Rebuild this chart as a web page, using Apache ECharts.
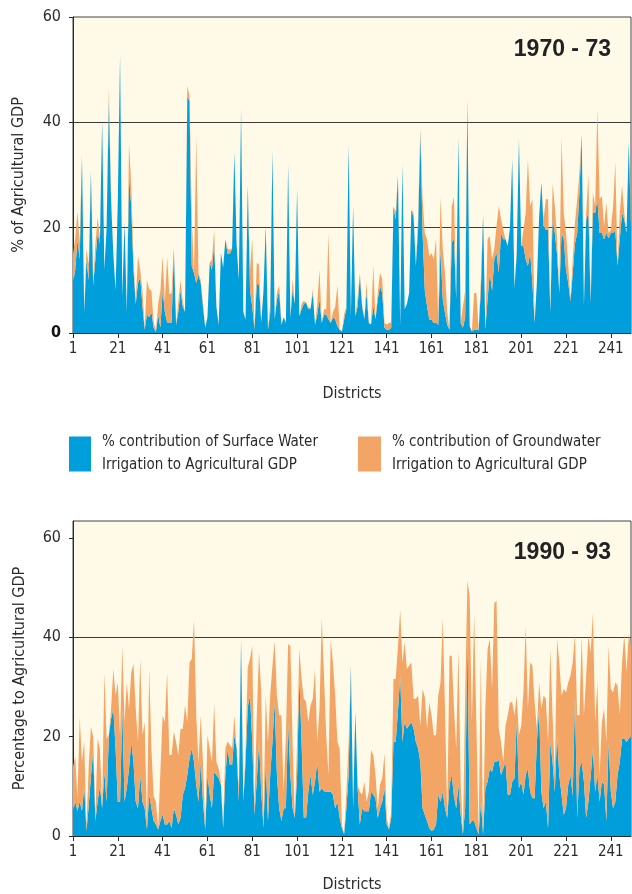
<!DOCTYPE html>
<html>
<head>
<meta charset="utf-8">
<script src="https://cdn.jsdelivr.net/npm/echarts@6/dist/echarts.min.js"></script>
<style>
html, body { margin: 0; padding: 0; background: #fff; }
#chart { width: 632px; height: 894px; }
</style>
</head>
<body>
<div id="chart"></div>
<script>
// districts 1..250 (x categories)
const districts = Array.from({ length: 250 }, (_, i) => String(i + 1));

// 1970-73, % of agricultural GDP
const surface7073 = [
  9.5, 12, 17.7, 14, 33.7, 3.9, 14, 10, 30.8, 9,
  14, 19, 17, 40.3, 12, 20, 44, 25, 15, 8,
  25, 52.7, 7, 21, 4, 29.8, 24, 12, 5.5, 9.5,
  10.6, 5, 0.6, 3.5, 3, 4, 1, 0.2, 3.5, 1,
  8, 4, 2, 2, 2, 15.7, 1.5, 4, 8, 5,
  4, 45, 44, 12.7, 11.4, 9.5, 11, 9.5, 5, 1,
  3, 13.3, 12, 17, 5, 1.5, 15.2, 12.4, 17.8, 15,
  15, 16, 34.3, 16.8, 10, 42.6, 4, 2.5, 28, 8,
  5, 0.6, 9.5, 9, 2, 8, 20.3, 0.6, 3.8, 34.6,
  2.5, 6.3, 8, 1.5, 3, 1.9, 32, 3, 8.3, 5.5,
  27.3, 3.2, 4.5, 5.5, 5.8, 4.5, 4.6, 7.6, 1.5, 3.5,
  6.4, 1.9, 3.5, 3.5, 2.6, 1.9, 3, 2.6, 1.3, 0.6,
  0.3, 2.6, 4.5, 35.8, 3.2, 24.1, 3.2, 5.1, 10.8, 5.1,
  2.6, 7.6, 1.9, 1.6, 5.1, 2.6, 6.4, 8.9, 7.6, 1,
  0.6, 0.6, 1, 24, 21.5, 29.9, 1.3, 32, 4.5, 5.5,
  7.6, 23.4, 22, 12.7, 20, 38.1, 19, 8, 5.1, 2.5,
  2.5, 1.9, 2, 1.5, 16, 6.4, 3.8, 1.5, 0.6, 17.2,
  17.8, 6.4, 37.2, 1.9, 1, 3, 44.5, 1.3, 0.3, 0.6,
  0.6, 0.5, 8, 22.5, 0.6, 6.4, 11.4, 8, 14, 15.2,
  11.4, 19, 17.8, 17.8, 16.5, 20, 33, 8.5, 15, 36.9,
  16.5, 16.5, 14, 12.7, 15.2, 9.5, 1.9, 9.5, 22, 28.6,
  20.3, 19.6, 19.6, 3.8, 21.6, 19, 15, 7.6, 19, 17.8,
  12, 9.5, 6, 11.4, 17, 19, 26.7, 37.8, 5.1, 21.6,
  22.8, 5.7, 22.8, 22.8, 25.4, 19, 19, 17.8, 19, 18,
  19, 19, 19.5, 12.7, 17.8, 22.8, 21.6, 19, 36.3, 20
];
const ground7073 = [
  5.5, 6, 5.3, 3, 0, 0.1, 2, 3, 0, 0.5,
  3, 3, 1, 0, 0, 0, 2.5, 1, 0, 0,
  0, 0, 0, 0, 0, 6.2, 4, 2, 0.5, 5.1,
  1.4, 3, 0.4, 6.5, 5.3, 4, 1, 0.3, 2, 7,
  6.6, 2, 12.5, 5.4, 5.6, 0.8, 0, 2, 2, 1,
  0, 2, 1, 9.3, 0, 27.9, 0.4, 0.5, 0.5, 0,
  0, 0, 2, 2.6, 0, 0, 0, 0, 0, 1,
  0.8, 0.1, 0, 0, 0, 0, 0, 0, 0, 4,
  13, 0, 3.8, 4, 0, 0, 0, 0, 1.7, 0,
  0, 1.3, 1, 0.4, 0, 0.3, 0, 0.2, 1.9, 0,
  0, 0, 1, 0.6, 0, 0.5, 0, 0.7, 0, 2,
  5.6, 0, 1, 1, 16.4, 0, 1, 2.4, 7.7, 0,
  0, 1, 0.6, 0, 0, 0, 0, 1.5, 0.6, 0.4,
  0, 2.1, 0, 0, 7.7, 0, 1.2, 2.5, 2.6, 0.9,
  1, 1.3, 1, 0, 1.5, 0, 0, 0, 0, 0,
  0, 0, 0.8, 0, 2, 0.8, 6.4, 11, 12.7, 12.1,
  12.7, 12.1, 16, 1, 9.8, 9.6, 7.6, 2.5, 0, 6.8,
  8, 0, 0, 0, 4.1, 5, 0, 0, 0, 7,
  7, 0, 2, 0, 0, 11.4, 7, 6, 2, 5.1,
  12.7, 2.6, 1.8, 0, 0, 0, 0, 0, 0.5, 0,
  0, 3.1, 8.8, 20.3, 8.9, 15.9, 0, 0, 0, 0,
  1.3, 5.8, 5.8, 0, 6.7, 5.1, 3, 0, 18.2, 5,
  7, 3.5, 0.4, 2.6, 4, 6.4, 3.8, 0, 0, 1.2,
  7.2, 0, 3.9, 1.3, 17.1, 6.4, 7, 2.5, 5.7, 1,
  0.6, 5, 12.9, 0, 5, 5.2, 1.2, 0, 0, 2
];

// 1990-93, % of agricultural GDP
const surface9093 = [
  5, 7, 5, 7, 5, 10, 1, 6, 12, 17,
  3, 7, 10, 5.6, 12.9, 6.9, 20.3, 23.6, 25.6, 17.6,
  6.9, 6.9, 25.6, 6.9, 9.6, 13.6, 18.9, 14.9, 6.9, 5.6,
  12.3, 6.9, 5.6, 1.3, 8.3, 5.6, 3, 2.3, 1.3, 3,
  4.3, 2.3, 2.3, 3, 1.6, 5.6, 4.3, 2.3, 3.6, 8.3,
  9.6, 12.3, 15.6, 17.6, 14.9, 10.3, 6.9, 14.9, 6.9, 1.3,
  12.3, 8.3, 5.6, 12.9, 12.3, 11.6, 10.3, 1.6, 12.3, 17.6,
  14.3, 14.3, 20.3, 17.6, 6.9, 39.6, 6.9, 14.9, 26, 28.3,
  18.9, 4.3, 11, 18.9, 8.9, 1.6, 14.9, 3, 12.3, 18.9,
  26.9, 12.3, 5.6, 3, 5.6, 5.6, 22.9, 12.3, 5.6, 3.6,
  12.3, 32, 18.9, 3.6, 3.6, 8.9, 12.3, 8.3, 10.9, 14.9,
  8.9, 9.6, 9, 8.9, 8.9, 8.9, 8.3, 5.6, 6.9, 3.6,
  1.6, 0.3, 5.6, 12.3, 34.3, 5.6, 25, 9.6, 2.3, 5.6,
  5, 5, 5, 8.9, 8.3, 7.6, 3.6, 5.6, 6.9, 9.6,
  2.3, 1.3, 3.6, 18.9, 18.9, 25, 32.3, 18.9, 23, 21.6,
  22.3, 22.9, 21.6, 18.9, 17.6, 14.9, 5.6, 4.3, 3, 1.6,
  1, 1.3, 2.3, 8.3, 6.9, 8.9, 5.6, 3.6, 10.3, 12.3,
  8, 5.6, 10.3, 4.3, 0.3, 5.6, 40.5, 2.3, 3, 3,
  1.6, 0.3, 6.9, 0.3, 9.6, 10.9, 13.6, 12.9, 14.9, 14.9,
  15.3, 12.3, 13.6, 14.9, 8.3, 8.3, 10.9, 11.6, 22.9, 9.6,
  10.9, 8.3, 12.3, 13.6, 8.9, 7.6, 7.6, 18.9, 25.6, 8.9,
  5.6, 6.9, 1.6, 18.9, 14.9, 8.9, 20.3, 12.3, 8.3, 4.3,
  5.6, 10.3, 12.3, 8, 28.3, 3.6, 13.6, 14.9, 10.9, 3.6,
  6.9, 12, 17.6, 8.9, 12.3, 6.9, 10.9, 10.3, 3, 18.9,
  8.9, 5.6, 6.9, 12.3, 14.9, 19.6, 19.6, 18.9, 19.6, 20
];
const ground9093 = [
  9, 8.9, 2.6, 17, 10, 9, 0.6, 8, 10, 3,
  0.6, 12.6, 7.6, 0.7, 20, 12.7, 0, 2, 8, 10.7,
  24, 13.4, 12.7, 16, 21.3, 12, 14, 19.7, 18.7, 13.3,
  23.3, 13.4, 17.3, 1, 25.3, 12, 5, 4.6, 0.3, 10,
  20, 20.6, 30.6, 13.3, 14.7, 15.4, 14.6, 14, 18, 13.3,
  16.7, 10.6, 19.3, 18, 28.7, 14, 8, 9.4, 8, 0.3,
  8, 9.3, 9.3, 13.7, 2.6, 2, 0.6, 0.7, 5.3, 1.4,
  4, 3.3, 4, 0, 2.7, 0, 0, 2.7, 8, 7.3,
  19.4, 1.3, 13, 18.1, 20.1, 1.4, 13.4, 15.9, 16, 15.4,
  12.3, 16, 18.7, 21.3, 3.3, 14.7, 15.7, 26, 13.3, 0,
  6.6, 5.6, 12.7, 24, 23.4, 14, 14, 19.3, 22.7, 4,
  16.7, 34.3, 23.3, 11.4, 3.4, 30.7, 26.6, 22.7, 12, 14,
  0.7, 0, 3.3, 6.6, 0, 1.3, 0, 0.7, 6.6, 2.7,
  5.9, 1.9, 3.9, 8.4, 8, 4.7, 2, 4.7, 4.7, 7,
  1.3, 0.3, 1.3, 12.7, 12.7, 13, 13.3, 16, 16, 12,
  12, 12, 6, 8.7, 10.7, 7.3, 24, 23.7, 18.6, 25.3,
  23.3, 19, 18, 20, 24, 35, 20, 0.7, 26, 24,
  18, 12, 27.3, 6.6, 0, 22.7, 10.9, 46, 19.9, 41.9,
  21.3, 0, 28.7, 0, 16, 26.7, 26, 16.7, 32, 32.4,
  6.3, 6.6, 1.3, 7.3, 16, 18.6, 16, 12.7, 5.4, 10.7,
  11.3, 20.6, 30, 12, 26, 26.7, 19.3, 2.7, 5.3, 16.7,
  22.7, 20.7, 17.3, 18.7, 9.4, 3.4, 19.3, 22.6, 20, 25.3,
  23.3, 20.6, 20, 26.9, 12.3, 20.7, 10.7, 25.4, 13.4, 28.7,
  33.4, 25, 27.3, 14, 18.6, 5.4, 12, 15.3, 15.9, 19.4,
  20.7, 23.3, 24, 18, 9.4, 15.3, 21, 14.1, 21, 18
];

const periods = ['1970 - 73', '1990 - 93'];
const yNames = ['% of Agricultural GDP', 'Percentage to Agricultural GDP'];
const swName = '% contribution of Surface Water\nIrrigation to Agricultural GDP';
const gwName = '% contribution of Groundwater\nIrrigation to Agricultural GDP';

const BLUE = '#009edb';
const ORANGE = '#f3a566';
const CREAM = '#fefae7';
const INK = '#2b2b2b';
const FONT = "'Liberation Sans Narrow', 'DejaVu Sans Condensed', 'Liberation Sans', sans-serif";

const chart = echarts.init(document.getElementById('chart'), null, { renderer: 'canvas' });

function xAxisFor(gridIndex, gap) {
    return {
        type: 'category',
        gridIndex: gridIndex,
        data: districts,
        boundaryGap: false,
        name: 'Districts',
        nameLocation: 'middle',
        nameGap: gap,
        nameTextStyle: { fontFamily: FONT, fontSize: 16, color: INK },
        axisLine: { lineStyle: { color: INK, width: 1 } },
        axisTick: { interval: 19, length: 5, lineStyle: { color: INK } },
        axisLabel: { interval: 19, margin: 9, fontFamily: FONT, fontSize: 15, color: INK },
        splitLine: { show: false }
    };
}

chart.setOption({
    animation: false,
    textStyle: { fontFamily: FONT },
    grid: [
        { left: 73, right: 1, top: 17, height: 316, show: true, backgroundColor: CREAM, borderColor: '#444', borderWidth: 1 },
        { left: 73, right: 1, top: 521, height: 317, show: true, backgroundColor: CREAM, borderColor: '#444', borderWidth: 1 }
    ],
    title: [
        { text: periods[0], right: 16, top: 33, textStyle: { fontFamily: 'Liberation Sans', fontSize: 23, fontWeight: 'bold', color: '#222' } },
        { text: periods[1], right: 16, top: 536, textStyle: { fontFamily: 'Liberation Sans', fontSize: 23, fontWeight: 'bold', color: '#222' } }
    ],
    legend: [
        {
            data: [swName], left: 64, top: 426, icon: 'rect', itemWidth: 22, itemHeight: 35,
            selectedMode: false,
            textStyle: { fontFamily: FONT, fontSize: 15, color: INK, lineHeight: 23, padding: [0, 0, 0, 6] }
        },
        {
            data: [gwName], left: 353, top: 426, icon: 'rect', itemWidth: 23, itemHeight: 35,
            selectedMode: false,
            textStyle: { fontFamily: FONT, fontSize: 15, color: INK, lineHeight: 23, padding: [0, 0, 0, 6] }
        }
    ],
    xAxis: [xAxisFor(0, 53), xAxisFor(1, 41)],
    yAxis: [
        {
            type: 'value', gridIndex: 0, min: 0, max: 60, interval: 20,
            name: yNames[0], nameLocation: 'middle', nameGap: 46,
            nameTextStyle: { fontFamily: FONT, fontSize: 16, color: INK },
            axisLine: { show: true, lineStyle: { color: INK } },
            axisTick: { show: true, length: 4, lineStyle: { color: INK } },
            axisLabel: {
                margin: 12, fontFamily: FONT, fontSize: 16, color: INK,
                formatter: v => v === 0 ? '{b|0}' : String(v),
                rich: { b: { fontFamily: FONT, fontSize: 16, fontWeight: 'bold', color: '#111' } }
            },
            splitLine: { show: true, lineStyle: { color: ['transparent', '#3a3a3a', '#3a3a3a', 'transparent'], width: 1 } }
        },
        {
            type: 'value', gridIndex: 1, min: 0, max: 63.4, interval: 20,
            name: yNames[1], nameLocation: 'middle', nameGap: 45,
            nameTextStyle: { fontFamily: FONT, fontSize: 16, color: INK },
            axisLine: { show: true, lineStyle: { color: INK } },
            axisTick: { show: true, length: 4, lineStyle: { color: INK } },
            axisLabel: {
                margin: 12, fontFamily: FONT, fontSize: 16, color: INK, showMaxLabel: false,
                formatter: v => (v % 20 === 0 ? String(v) : '')
            },
            splitLine: { show: true, lineStyle: { color: ['transparent', 'transparent', '#3a3a3a', 'transparent', 'transparent'], width: 1 } }
        }
    ],
    series: [
        { name: swName, type: 'line', xAxisIndex: 0, yAxisIndex: 0, stack: 'p1', data: surface7073,
          symbol: 'none', lineStyle: { width: 0 }, areaStyle: { color: BLUE, opacity: 1 }, color: BLUE, silent: true },
        { name: gwName, type: 'line', xAxisIndex: 0, yAxisIndex: 0, stack: 'p1', data: ground7073,
          symbol: 'none', lineStyle: { width: 0 }, areaStyle: { color: ORANGE, opacity: 1 }, color: ORANGE, silent: true },
        { name: swName, type: 'line', xAxisIndex: 1, yAxisIndex: 1, stack: 'p2', data: surface9093,
          symbol: 'none', lineStyle: { width: 0 }, areaStyle: { color: BLUE, opacity: 1 }, color: BLUE, silent: true },
        { name: gwName, type: 'line', xAxisIndex: 1, yAxisIndex: 1, stack: 'p2', data: ground9093,
          symbol: 'none', lineStyle: { width: 0 }, areaStyle: { color: ORANGE, opacity: 1 }, color: ORANGE, silent: true }
    ]
});
</script>
</body>
</html>
